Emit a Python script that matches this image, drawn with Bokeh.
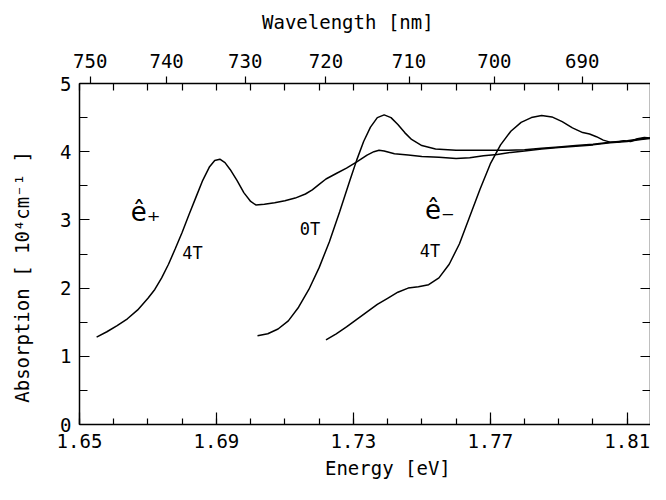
from bokeh.plotting import figure
from bokeh.models import (LinearAxis, FixedTicker, SingleIntervalTicker, Range1d,
                          CustomJSTickFormatter)
from bokeh.embed import file_html
from bokeh.resources import INLINE
from bokeh.core.properties import value

# ---------------- data ----------------
HC = 1239.84  # eV*nm, wavelength <-> energy conversion

energy_tick_labels = [1.65, 1.69, 1.73, 1.77, 1.81]
energy_minor = [1.65 + 0.01 * i for i in range(17)]
wavelength_tick_labels = [750, 740, 730, 720, 710, 700, 690]

# e+ polarisation, B = 4 T
ep4_E = [1.655, 1.658, 1.661, 1.664, 1.667, 1.670, 1.672, 1.674, 1.676, 1.678,
         1.680, 1.682, 1.684, 1.686, 1.688, 1.6895, 1.691, 1.6925, 1.694, 1.696,
         1.698, 1.700, 1.7015, 1.704, 1.707, 1.710, 1.713, 1.716, 1.718, 1.720,
         1.722, 1.725, 1.728, 1.731, 1.734, 1.736, 1.7375, 1.739, 1.742, 1.746,
         1.750, 1.755, 1.760, 1.764, 1.768, 1.772, 1.776, 1.780, 1.785, 1.790,
         1.795, 1.800, 1.805, 1.810, 1.814, 1.8185]
ep4_A = [1.28, 1.36, 1.45, 1.55, 1.68, 1.85, 1.98, 2.15, 2.35, 2.58,
         2.82, 3.08, 3.33, 3.58, 3.78, 3.87, 3.89, 3.84, 3.74, 3.58,
         3.40, 3.27, 3.22, 3.23, 3.25, 3.28, 3.32, 3.38, 3.44, 3.52,
         3.60, 3.68, 3.76, 3.85, 3.95, 4.00, 4.02, 4.01, 3.97, 3.95,
         3.93, 3.92, 3.90, 3.91, 3.94, 3.96, 3.99, 4.01, 4.04, 4.06,
         4.08, 4.10, 4.13, 4.15, 4.18, 4.20]

# B = 0 T
b0_E = [1.702, 1.705, 1.708, 1.711, 1.714, 1.717, 1.720, 1.723, 1.726, 1.729,
        1.731, 1.733, 1.735, 1.737, 1.739, 1.741, 1.743, 1.745, 1.747, 1.750,
        1.754, 1.760, 1.765, 1.770, 1.775, 1.780, 1.785, 1.790, 1.795, 1.800,
        1.805, 1.810, 1.814, 1.8185]
b0_A = [1.30, 1.33, 1.40, 1.52, 1.72, 1.98, 2.30, 2.68, 3.12, 3.58,
        3.88, 4.15, 4.36, 4.50, 4.54, 4.50, 4.40, 4.28, 4.18, 4.09,
        4.04, 4.02, 4.02, 4.02, 4.02, 4.03, 4.05, 4.07, 4.09, 4.11,
        4.14, 4.16, 4.19, 4.21]

# e- polarisation, B = 4 T
em4_E = [1.722, 1.725, 1.728, 1.731, 1.734, 1.737, 1.740, 1.743, 1.746, 1.749,
         1.752, 1.755, 1.758, 1.761, 1.764, 1.767, 1.770, 1.773, 1.776, 1.779,
         1.782, 1.785, 1.788, 1.791, 1.794, 1.797, 1.799, 1.801, 1.803, 1.805,
         1.807, 1.809, 1.811, 1.813, 1.815, 1.817, 1.8185]
em4_A = [1.24, 1.33, 1.43, 1.54, 1.65, 1.76, 1.85, 1.94, 2.00, 2.02,
         2.05, 2.15, 2.35, 2.65, 3.05, 3.45, 3.82, 4.10, 4.30, 4.43,
         4.50, 4.53, 4.51, 4.44, 4.35, 4.28, 4.26, 4.22, 4.17, 4.14,
         4.14, 4.16, 4.15, 4.19, 4.21, 4.20, 4.22]

# annotations
sym_text = ["ê₊", "ê₋"]
sym_E = [1.6693, 1.7553]
sym_A = [3.11, 3.15]
field_text = ["4T", "0T", "4T"]
field_E = [1.6830, 1.7173, 1.7524]
field_A = [2.52, 2.87, 2.55]

# ---------------- figure ----------------
FONT = "DejaVu Sans Mono"
NBSP = "\u00a0"
p = figure(width=650, height=484, output_backend="svg", toolbar_location=None,
           x_range=Range1d(1.65, 1.8168), y_range=Range1d(0, 5),
           x_axis_location=None, y_axis_location=None,
           min_border_left=79, min_border_right=0, min_border_top=83,
           min_border_bottom=60)
p.outline_line_color = None
p.background_fill_color = "white"
p.border_fill_color = "white"
for g in p.grid:
    g.visible = False


def style(ax):
    ax.axis_line_color = "black"
    ax.axis_line_width = 1.5
    ax.major_tick_line_color = "black"
    ax.minor_tick_line_color = "black"
    ax.major_tick_line_width = 1.2
    ax.minor_tick_line_width = 1.2
    ax.major_label_text_font = FONT
    ax.major_label_text_font_size = "19px"
    ax.major_label_text_color = "black"
    ax.axis_label_text_font = FONT
    ax.axis_label_text_font_size = "19px"
    ax.axis_label_text_font_style = "normal"
    ax.axis_label_text_color = "black"


# bottom energy axis
xb = LinearAxis(ticker=FixedTicker(ticks=energy_tick_labels, minor_ticks=energy_minor))
style(xb)
xb.major_tick_in = 12
xb.major_tick_out = 0
xb.minor_tick_in = 6
xb.minor_tick_out = 0
xb.major_label_standoff = 9
xb.formatter = CustomJSTickFormatter(code="return tick.toFixed(2)")
xb.axis_label = NBSP * 4 + "Energy [eV]"
xb.axis_label_standoff = 6
p.add_layout(xb, "below")

# left absorption axis
yl = LinearAxis(ticker=SingleIntervalTicker(interval=1, num_minor_ticks=2))
style(yl)
yl.major_tick_in = 10
yl.major_tick_out = 0
yl.minor_tick_in = 8
yl.minor_tick_out = 0
yl.major_label_standoff = 8
yl.axis_label = "Absorption [ 10⁴cm⁻¹ ]" + NBSP * 4
yl.axis_label_standoff = 24
p.add_layout(yl, "left")

# right mirror axis
yr = LinearAxis(ticker=SingleIntervalTicker(interval=1, num_minor_ticks=2),
                formatter=CustomJSTickFormatter(code="return ''"))
style(yr)
yr.major_tick_in = 10
yr.major_tick_out = 0
yr.minor_tick_in = 8
yr.minor_tick_out = 0
yr.major_label_standoff = 0
p.add_layout(yr, "right")

# top wavelength axis
xt = LinearAxis(ticker=FixedTicker(ticks=[HC / w for w in wavelength_tick_labels],
                                   minor_ticks=energy_minor),
                formatter=CustomJSTickFormatter(code="return (1239.84/tick).toFixed(0)"))
style(xt)
xt.major_tick_in = 0
xt.major_tick_out = 7
xt.minor_tick_in = 7
xt.minor_tick_out = 0
xt.major_label_standoff = 9
xt.axis_label = "Wavelength [nm]" + NBSP * 3
xt.axis_label_standoff = 18
p.add_layout(xt, "above")

# curves
for E, A in [(ep4_E, ep4_A), (b0_E, b0_A), (em4_E, em4_A)]:
    p.line(E, A, line_color="black", line_width=1.5)

p.text(x=sym_E, y=sym_A, text=sym_text, text_font=value("DejaVu Sans"),
       text_font_size="26px", text_align="center", text_baseline="middle",
       text_color="black")
p.text(x=field_E, y=field_A, text=field_text, text_font=value(FONT),
       text_font_size="17px", text_align="center", text_baseline="middle",
       text_color="black")

open("out.html", "w").write(file_html(p, INLINE))
